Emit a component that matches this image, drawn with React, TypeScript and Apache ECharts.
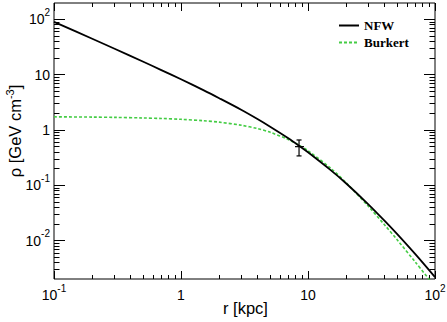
import React, { useEffect, useRef } from 'react';
import * as echarts from 'echarts';

// ---- data ----
const radii = [0.1, 0.2, 0.3, 0.5, 0.7, 1, 1.5, 2, 3, 4, 5, 7, 8.5, 10, 15, 20, 30, 40, 50, 70, 100];
const nfwValues = [90, 44.5, 29.4, 17.3, 12.1, 8.25, 5.25, 3.75, 2.3, 1.58, 1.16, 0.71, 0.52, 0.395, 0.19, 0.108, 0.045, 0.023, 0.0134, 0.0057, 0.0022];
const burkertValues = [1.73, 1.71, 1.69, 1.65, 1.615, 1.56, 1.47, 1.385, 1.215, 1.06, 0.915, 0.672, 0.532, 0.422, 0.206, 0.111, 0.0413, 0.0194, 0.0106, 0.0041, 0.00148];

const pointR = [8.5];
const pointRLow = [7.9];
const pointRHigh = [9.3];
const pointRho = [0.5];
const pointRhoLow = [0.34];
const pointRhoHigh = [0.66];

const xMajorTicks = [0.1, 1, 10, 100];
const yMajorTicks = [0.01, 0.1, 1, 10, 100];
const xDecades = [-1, 0, 1];
const yDecades = [-3, -2, -1, 0, 1, 2];
const minorMultipliers = [2, 3, 4, 5, 6, 7, 8, 9];

const X_MIN = 0.1;
const X_MAX = 100;
const Y_MIN = 0.00203;
const Y_MAX = 197;

const legendNames = ['NFW', 'Burkert'];

function minorTicks(decades: number[], lo: number, hi: number) {
  const out: number[] = [];
  decades.forEach((k) => {
    minorMultipliers.forEach((m) => {
      const v = parseFloat((m * Math.pow(10, k)).toPrecision(6));
      if (v > lo && v < hi) out.push(v);
    });
  });
  return out;
}

function powLabel(v: number) {
  const e = Math.round(Math.log10(v));
  if (e === 0) return '{b|1}';
  if (e === 1) return '{b|10}';
  return `{b|10}{s|${e}}`;
}

const FONT = 'Liberation Sans';
const labelRich = {
  b: { fontSize: 14, fontFamily: FONT, color: '#000', lineHeight: 24 },
  s: { fontSize: 10, fontFamily: FONT, color: '#000', lineHeight: 10, verticalAlign: 'top' },
};

export default function App() {
  const ref = useRef<HTMLDivElement>(null);
  useEffect(() => {
    document.body.style.margin = '0';
    if (!ref.current) return;
    const chart = echarts.init(ref.current, undefined, { renderer: 'svg' });
    const xMinor = minorTicks(xDecades, X_MIN, X_MAX);
    const yMinor = minorTicks(yDecades, Y_MIN, Y_MAX);

    const xBase = {
      type: 'log', logBase: 10, min: X_MIN, max: X_MAX, gridIndex: 0,
      splitLine: { show: false }, axisLine: { show: false, onZero: false },
    };
    const yBase = {
      type: 'log', logBase: 10, min: Y_MIN, max: Y_MAX, gridIndex: 0,
      splitLine: { show: false }, axisLine: { show: false, onZero: false },
    };
    const tickStyle = { color: '#000', width: 1 };

    const option: any = {
      animation: false,
      textStyle: { fontFamily: FONT },
      grid: {
        left: 54, top: 3, width: 381, height: 276,
        show: true, borderColor: '#000', borderWidth: 1, backgroundColor: 'transparent',
        containLabel: false, outerBoundsMode: 'none',
      },
      legend: {
        data: legendNames,
        orient: 'vertical',
        left: 333, top: 14,
        itemWidth: 20, itemHeight: 14, itemGap: 4,
        selectedMode: false,
        itemStyle: { opacity: 0 },
        textStyle: { fontFamily: 'Liberation Serif', fontWeight: 'bold', fontSize: 13, color: '#000' },
      },
      xAxis: [
        {
          ...xBase, position: 'bottom',
          axisTick: { inside: true, length: 8, customValues: xMajorTicks, lineStyle: tickStyle },
          axisLabel: { customValues: xMajorTicks, formatter: powLabel, margin: 4, rich: labelRich, color: '#000' },
        },
        {
          ...xBase, position: 'bottom',
          axisTick: { inside: true, length: 4, customValues: xMinor, lineStyle: tickStyle },
          axisLabel: { show: false },
        },
        {
          ...xBase, position: 'top',
          axisTick: { inside: true, length: 8, customValues: xMajorTicks, lineStyle: tickStyle },
          axisLabel: { show: false },
        },
        {
          ...xBase, position: 'top',
          axisTick: { inside: true, length: 4, customValues: xMinor, lineStyle: tickStyle },
          axisLabel: { show: false },
        },
      ],
      yAxis: [
        {
          ...yBase, position: 'left',
          axisTick: { inside: true, length: 11, customValues: yMajorTicks, lineStyle: tickStyle },
          axisLabel: { customValues: yMajorTicks, formatter: powLabel, margin: 4, rich: labelRich, color: '#000' },
        },
        {
          ...yBase, position: 'left',
          axisTick: { inside: true, length: 5.5, customValues: yMinor, lineStyle: tickStyle },
          axisLabel: { show: false },
        },
        {
          ...yBase, position: 'right',
          axisTick: { inside: true, length: 11, customValues: yMajorTicks, lineStyle: tickStyle },
          axisLabel: { show: false },
        },
        {
          ...yBase, position: 'right',
          axisTick: { inside: true, length: 5.5, customValues: yMinor, lineStyle: tickStyle },
          axisLabel: { show: false },
        },
      ],
      series: [
        {
          name: 'NFW', type: 'line', xAxisIndex: 0, yAxisIndex: 0,
          data: radii.map((r, i) => [r, nfwValues[i]]),
          showSymbol: false, symbol: 'none', smooth: 0.3, clip: true,
          lineStyle: { color: '#000', width: 1.8, type: 'solid' },
          itemStyle: { color: '#000' },
          z: 3,
        },
        {
          name: 'Burkert', type: 'line', xAxisIndex: 0, yAxisIndex: 0,
          data: radii.map((r, i) => [r, burkertValues[i]]),
          showSymbol: false, symbol: 'none', smooth: 0.3, clip: true,
          lineStyle: { color: '#44cc44', width: 1.6, type: [3, 2] },
          itemStyle: { color: '#44cc44' },
          z: 2,
        },
        {
          name: 'measurement', type: 'custom', xAxisIndex: 0, yAxisIndex: 0,
          data: pointR.map((r, i) => [r, pointRho[i], pointRLow[i], pointRHigh[i], pointRhoLow[i], pointRhoHigh[i]]),
          renderItem: (params: any, api: any) => {
            const c = api.coord([api.value(0), api.value(1)]);
            const l = api.coord([api.value(2), api.value(1)]);
            const rr = api.coord([api.value(3), api.value(1)]);
            const lo = api.coord([api.value(0), api.value(4)]);
            const hi = api.coord([api.value(0), api.value(5)]);
            const style = { stroke: '#000', lineWidth: 1.2 };
            return {
              type: 'group',
              children: [
                { type: 'line', shape: { x1: l[0], y1: c[1], x2: rr[0], y2: c[1] }, style },
                { type: 'line', shape: { x1: c[0], y1: hi[1], x2: c[0], y2: lo[1] }, style },
                { type: 'line', shape: { x1: c[0] - 2.5, y1: hi[1], x2: c[0] + 2.5, y2: hi[1] }, style },
                { type: 'line', shape: { x1: c[0] - 2.5, y1: lo[1], x2: c[0] + 2.5, y2: lo[1] }, style },
              ],
            };
          },
          z: 10,
        },
      ],
      graphic: [
        {
          type: 'text', x: 245.5, y: 308,
          style: {
            text: 'r [kpc]', fontSize: 16.5, fontFamily: FONT, fill: '#000',
            align: 'center', verticalAlign: 'middle',
          },
        },
        {
          type: 'text', x: 15, y: 131, rotation: Math.PI / 2,
          style: {
            text: '{a|ρ [GeV cm}{s|-3}{a|]}',
            rich: {
              a: { fontSize: 16.5, fontFamily: FONT, fill: '#000', lineHeight: 22 },
              s: { fontSize: 11, fontFamily: FONT, fill: '#000', lineHeight: 9, verticalAlign: 'top' },
            },
            align: 'center', verticalAlign: 'middle',
          },
        },
      ],
    };
    chart.setOption(option);
    return () => chart.dispose();
  }, []);
  return <div ref={ref} style={{ width: 447, height: 322 }} />;
}
